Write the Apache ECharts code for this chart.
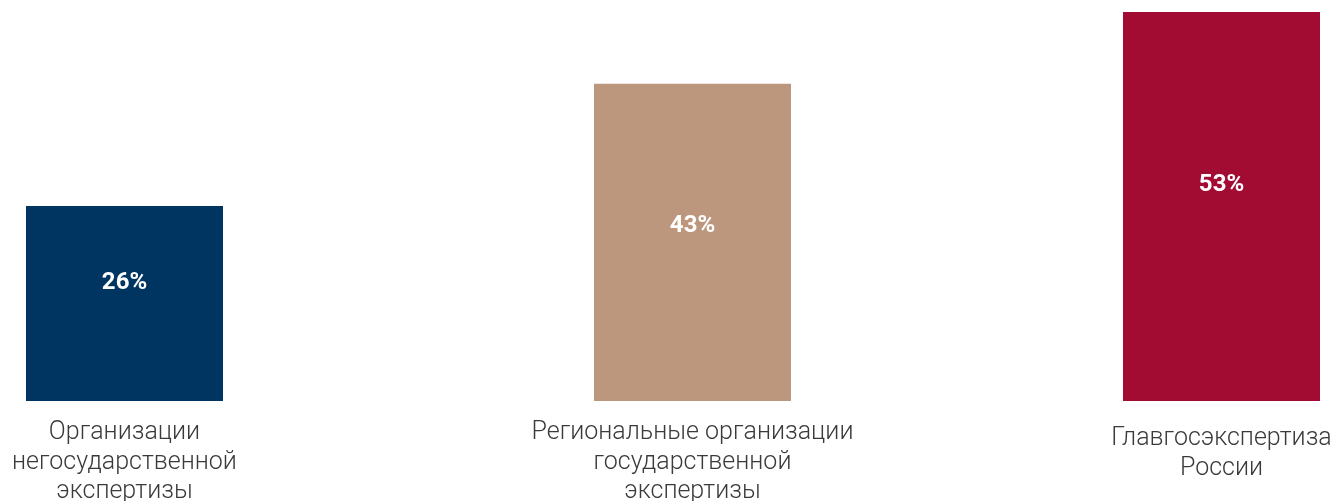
<!DOCTYPE html>
<html>
<head>
<meta charset="utf-8">
<script src="https://cdn.jsdelivr.net/npm/echarts@6/dist/echarts.min.js"></script>
<style>
  html, body { margin: 0; padding: 0; background: #ffffff; }
  #chart { width: 1335px; height: 501px; }
</style>
</head>
<body>
<div id="chart"></div>
<script>
// ---- data ----
const categories = [
  'Организации\nнегосударственной\nэкспертизы',
  'Региональные организации\nгосударственной\nэкспертизы',
  'Главгосэкспертиза\nРоссии'
];
const values = [26, 43, 53];
const valueLabels = ['26%', '43%', '53%'];

// ---- styles ----
const barColors = ['#003461', '#bd977d', '#a20b32'];
const gridLefts = [26, 594, 1123];
const labelMargins = [17, 17, 23];
const valueLabelOffsets = [-21, -16, -21.5];
const Y_MIN = -1.139;
const Y_MAX = 53;

const grids = [], xAxes = [], yAxes = [], series = [];
categories.forEach(function (cat, i) {
  grids.push({
    left: gridLefts[i], width: 197, top: 12, bottom: 100,
    containLabel: false,
    outerBoundsMode: 'none'
  });
  xAxes.push({
    type: 'category',
    gridIndex: i,
    data: [cat],
    axisLine: { show: false },
    axisTick: { show: false },
    splitLine: { show: false },
    axisLabel: {
      interval: 0,
      margin: labelMargins[i],
      fontSize: 25,
      lineHeight: 29.5,
      fontFamily: 'Roboto',
      fontWeight: 300,
      color: '#3a3a3a',
      align: 'center'
    }
  });
  yAxes.push({
    type: 'value',
    gridIndex: i,
    min: Y_MIN,
    max: Y_MAX,
    show: false,
    splitLine: { show: false }
  });
  series.push({
    type: 'custom',
    xAxisIndex: i,
    yAxisIndex: i,
    data: [[0, values[i]]],
    silent: true,
    renderItem: function (params, api) {
      const top = api.coord([api.value(0), api.value(1)]);
      const base = api.coord([api.value(0), Y_MIN]);
      const w = api.size([1, 0])[0];
      return {
        type: 'rect',
        shape: { x: top[0] - w / 2, y: top[1], width: w, height: base[1] - top[1] },
        style: { fill: barColors[i] },
        textContent: {
          style: {
            text: valueLabels[i],
            fill: '#ffffff',
            fontSize: 24,
            fontWeight: 'bold',
            fontFamily: 'Roboto'
          }
        },
        textConfig: { position: 'inside', offset: [0, valueLabelOffsets[i]] }
      };
    }
  });
});

const chart = echarts.init(document.getElementById('chart'));
chart.setOption({
  animation: false,
  grid: grids,
  xAxis: xAxes,
  yAxis: yAxes,
  series: series
});
</script>
</body>
</html>
